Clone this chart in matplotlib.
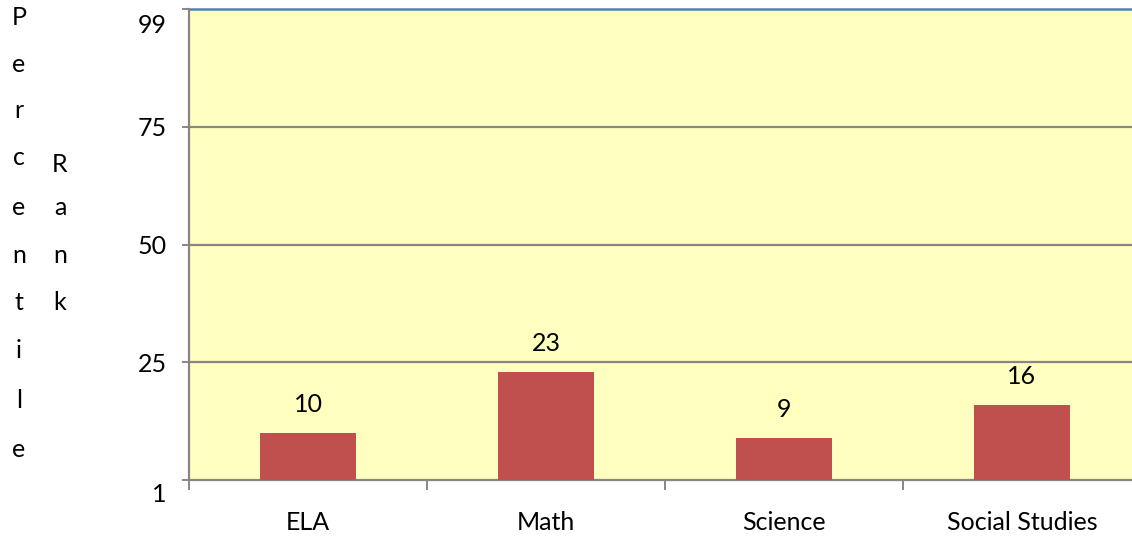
import matplotlib
matplotlib.use("Agg")
import matplotlib.pyplot as plt
from matplotlib.ticker import FixedLocator
from matplotlib.transforms import ScaledTranslation

categories = ["ELA", "Math", "Science", "Social Studies"]
values = [10, 23, 9, 16]
ytick_values = [0, 25, 50, 75, 100]
ytick_labels = ["1", "25", "50", "75", "99"]
ylabel_col1 = list("Percentile")
ylabel_col2 = list("Rank")

FONT = "Lato"
FS = 18
plt.rcParams["font.family"] = [FONT, "DejaVu Sans"]

W, H = 1132, 539
fig = plt.figure(figsize=(W / 100, H / 100), dpi=100)
ax = fig.add_axes([189 / W, 59 / H, 952 / W, 471 / H])
ax.set_facecolor("#FFFFC0")

x = list(range(len(categories)))
bars = ax.bar(x, values, width=0.4, color="#C0504D", zorder=3)

ax.set_xlim(-0.5, len(categories) - 0.5)
ax.set_ylim(0, 100)

# grid lines
for v in ytick_values[1:-1]:
    ax.axhline(v, color="#868686", lw=1.6, zorder=1)
ax.axhline(100, color="#4F81BD", lw=1.8, zorder=2, clip_on=False)

for s in ["top", "right"]:
    ax.spines[s].set_visible(False)
for s in ["left", "bottom"]:
    ax.spines[s].set_color("#868686")
    ax.spines[s].set_linewidth(1.6)

ax.set_yticks(ytick_values)
ax.set_yticklabels(ytick_labels, fontsize=FS)
ax.tick_params(axis="y", length=5, width=1.4, color="#868686", pad=11)
tl = ax.get_yticklabels()
tl[0].set_va("top")
tl[-1].set_va("top")
tl[0].set_transform(tl[0].get_transform() + ScaledTranslation(0, -0.03, fig.dpi_scale_trans))
tl[-1].set_transform(tl[-1].get_transform() + ScaledTranslation(0, -0.05, fig.dpi_scale_trans))

ax.set_xticks(x)
ax.set_xticklabels(categories, fontsize=FS)
ax.tick_params(axis="x", which="major", length=0, pad=22)
ax.xaxis.set_minor_locator(FixedLocator([i - 0.5 for i in range(len(categories) + 1)]))
ax.tick_params(axis="x", which="minor", length=7, width=1.4, color="#868686")

for b, v in zip(bars, values):
    ax.annotate(str(v), (b.get_x() + b.get_width() / 2, b.get_height()),
                xytext=(0, 12), textcoords="offset points",
                ha="center", va="bottom", fontsize=FS)

# stacked y-label letters
base1 = [25, 72, 118, 165, 215, 263, 310, 358, 408, 457]
for ch, yb in zip(ylabel_col1, base1):
    fig.text(19 / W, 1 - yb / H, ch, ha="center", va="baseline", fontsize=FS)
base2 = [172, 215, 263, 310]
for ch, yb in zip(ylabel_col2, base2):
    fig.text(60 / W, 1 - yb / H, ch, ha="center", va="baseline", fontsize=FS)

fig.savefig("out.png", dpi=100)
